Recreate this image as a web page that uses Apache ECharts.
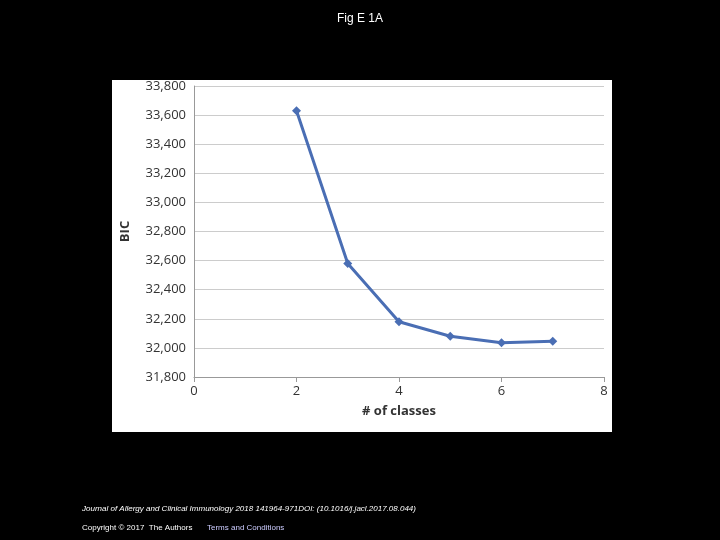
<!DOCTYPE html>
<html><head><meta charset="utf-8">
<script src="https://cdn.jsdelivr.net/npm/echarts@6/dist/echarts.min.js"></script>
<style>html,body{margin:0;background:#000}#c{width:720px;height:540px}</style>
</head><body><div id="c"></div>
<script>
const classes=[2,3,4,5,6,7];
const bic=[33630,32580,32180,32080,32035,32045];
const chart=echarts.init(document.getElementById('c'));
chart.setOption({
 backgroundColor:'#000',
 animation:false,
 title:{text:'Fig E 1A',left:'center',top:8,textStyle:{color:'#fff',fontSize:12,fontWeight:'normal',fontFamily:'Liberation Sans'}},
 graphic:[
  {type:'rect',shape:{x:112,y:80,width:500,height:352},style:{fill:'#fff'},z:-10},
  {type:'text',left:82,top:505,style:{text:'Journal of Allergy and Clinical Immunology 2018 141964-971DOI: (10.1016/j.jacl.2017.08.044)',fill:'#fff',font:'italic 8px Liberation Sans'}},
  {type:'text',left:82,top:524,style:{text:'Copyright © 2017  The Authors',fill:'#fff',font:'8px Liberation Sans'}},
  {type:'text',left:207,top:524,style:{text:'Terms and Conditions',fill:'#ccf',font:'8px Liberation Sans'}}
 ],
 grid:{left:194,right:116,top:86,bottom:163},
 xAxis:{type:'value',min:0,max:8,interval:2,name:'# of classes',nameLocation:'middle',nameGap:28,
  nameTextStyle:{color:'#333',fontWeight:'bold',fontSize:13,fontFamily:'Open Sans'},
  axisLine:{lineStyle:{color:'#999'}},axisTick:{show:true,lineStyle:{color:'#999'}},splitLine:{show:false},
  axisLabel:{color:'#333',fontSize:13,fontFamily:'Open Sans'}},
 yAxis:{type:'value',min:31800,max:33800,interval:200,name:'BIC',nameLocation:'middle',nameGap:62,
  nameTextStyle:{color:'#333',fontWeight:'bold',fontSize:13,fontFamily:'Open Sans'},
  axisLine:{show:true,lineStyle:{color:'#999'}},axisTick:{show:false},splitLine:{lineStyle:{color:'#ccc'}},
  axisLabel:{color:'#333',fontSize:13,fontFamily:'Open Sans'}},
 series:[{type:'line',data:classes.map((c,i)=>[c,bic[i]]),symbol:'diamond',symbolSize:9,
  lineStyle:{color:'#4a6eb4',width:3},itemStyle:{color:'#4a6eb4'}}]
});
</script></body></html>
